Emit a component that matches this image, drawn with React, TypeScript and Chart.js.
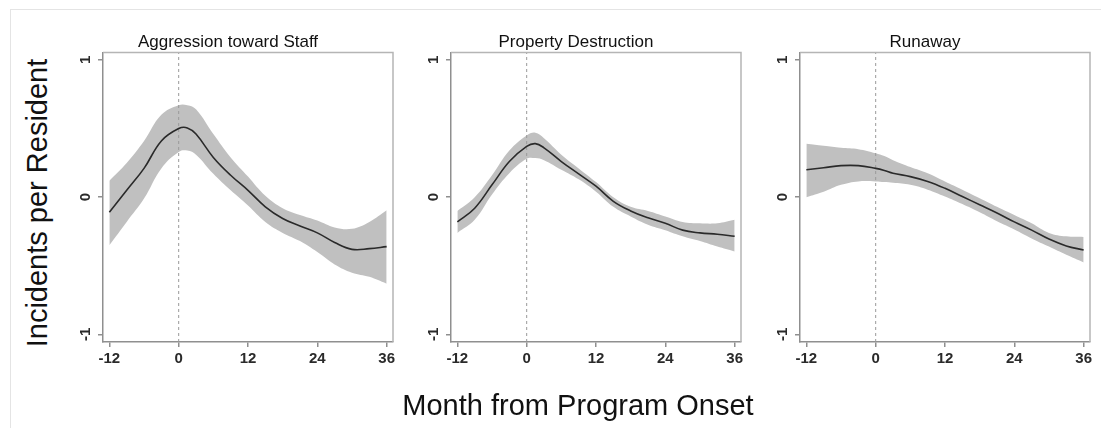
import React, { useEffect, useRef } from "react";
import { Chart, registerables } from "chart.js";

Chart.register(...registerables);

// ---- data ----
const months = [-12, -9, -6, -3, 0, 1.5, 3, 6, 9, 12, 15, 18, 21, 24, 27, 30, 33, 36];
const xTickValues = [-12, 0, 12, 24, 36];
const yTickValues = [-1, 0, 1];

const panelTitles = ["Aggression toward Staff", "Property Destruction", "Runaway"];

const aggMean = [-0.11, 0.05, 0.21, 0.41, 0.5, 0.505, 0.46, 0.29, 0.16, 0.05, -0.07, -0.155, -0.21, -0.26, -0.33, -0.38, -0.375, -0.36];
const aggUpper = [0.12, 0.25, 0.41, 0.6, 0.67, 0.67, 0.64, 0.46, 0.29, 0.15, 0.01, -0.08, -0.13, -0.17, -0.22, -0.23, -0.18, -0.095];
const aggLower = [-0.35, -0.18, -0.01, 0.21, 0.33, 0.34, 0.31, 0.17, 0.05, -0.06, -0.18, -0.26, -0.32, -0.4, -0.49, -0.55, -0.58, -0.63];

const propMean = [-0.18, -0.08, 0.09, 0.26, 0.37, 0.39, 0.36, 0.26, 0.17, 0.08, -0.03, -0.1, -0.15, -0.19, -0.24, -0.26, -0.27, -0.285];
const propUpper = [-0.1, 0.0, 0.16, 0.34, 0.45, 0.47, 0.43, 0.31, 0.21, 0.11, 0.0, -0.07, -0.1, -0.14, -0.18, -0.19, -0.19, -0.165];
const propLower = [-0.26, -0.165, 0.02, 0.175, 0.28, 0.285, 0.27, 0.2, 0.13, 0.04, -0.07, -0.14, -0.2, -0.24, -0.285, -0.32, -0.36, -0.395];

const runMean = [0.2, 0.215, 0.23, 0.23, 0.21, 0.195, 0.175, 0.15, 0.115, 0.065, 0.005, -0.055, -0.115, -0.18, -0.24, -0.305, -0.355, -0.385];
const runUpper = [0.39, 0.375, 0.36, 0.35, 0.32, 0.3, 0.27, 0.22, 0.175, 0.115, 0.055, -0.007, -0.07, -0.13, -0.19, -0.26, -0.285, -0.29];
const runLower = [0.0, 0.04, 0.09, 0.115, 0.115, 0.11, 0.105, 0.09, 0.055, 0.005, -0.05, -0.11, -0.175, -0.235, -0.3, -0.36, -0.42, -0.475];

const X_MIN = -13.1;
const X_MAX = 37.1;
const Y_MIN = -1.055;
const Y_MAX = 1.055;

const FONT = "'Liberation Sans', Arial, Helvetica, sans-serif";
const AXIS_COLOR = "#8f8f8f";
const BAND_COLOR = "#c0c0c0";
const LINE_COLOR = "#2a2a2a";

const panels = [
  { title: panelTitles[0], mean: aggMean, upper: aggUpper, lower: aggLower, boxLeft: 103 },
  { title: panelTitles[1], mean: propMean, upper: propUpper, lower: propLower, boxLeft: 451 },
  { title: panelTitles[2], mean: runMean, upper: runUpper, lower: runLower, boxLeft: 800 },
];

const Y_AXIS_W = 40;
const BOX_W = 290;
const CANVAS_W = BOX_W + 2 * Y_AXIS_W;
const CANVAS_H = 380;

const toPts = (ys: number[]) => months.map((m, i) => ({ x: m, y: ys[i] }));

const boxPlugin = {
  id: "plotBox",
  afterDraw(chart: any) {
    const { ctx, chartArea } = chart;
    ctx.save();
    ctx.strokeStyle = "#b5b5b5";
    ctx.lineWidth = 1.5;
    ctx.beginPath();
    ctx.moveTo(chartArea.left, chartArea.top);
    ctx.lineTo(chartArea.right, chartArea.top);
    ctx.lineTo(chartArea.right, chartArea.bottom);
    ctx.stroke();
    ctx.restore();
  },
};

function Panel({ p }: { p: typeof panels[number] }) {
  const ref = useRef<HTMLCanvasElement>(null);
  useEffect(() => {
    if (!ref.current) return;
    const chart = new Chart(ref.current, {
      type: "line",
      data: {
        datasets: [
          {
            data: toPts(p.upper),
            borderWidth: 0,
            borderColor: "rgba(0,0,0,0)",
            backgroundColor: BAND_COLOR,
            fill: "+1",
            pointRadius: 0,
            tension: 0.4,
            order: 3,
          },
          {
            data: toPts(p.lower),
            borderWidth: 0,
            borderColor: "rgba(0,0,0,0)",
            fill: false,
            pointRadius: 0,
            tension: 0.4,
            order: 2,
          },
          {
            data: toPts(p.mean),
            borderWidth: 1.6,
            borderColor: LINE_COLOR,
            fill: false,
            pointRadius: 0,
            tension: 0.4,
            order: 0,
          },
          {
            data: [
              { x: 0, y: Y_MIN },
              { x: 0, y: Y_MAX },
            ],
            borderWidth: 1,
            borderColor: "#9a9a9a",
            borderDash: [3, 3],
            fill: false,
            pointRadius: 0,
            order: 1,
          },
        ],
      } as any,
      options: {
        animation: false,
        responsive: false,
        events: [],
        layout: { padding: { left: 0, right: Y_AXIS_W, top: 0, bottom: 0 } },
        plugins: {
          legend: { display: false },
          tooltip: { enabled: false },
          title: {
            display: true,
            text: p.title,
            color: "#111",
            font: { family: FONT, size: 17, weight: "normal" },
            padding: { top: 32, bottom: 0 },
          },
        },
        scales: {
          x: {
            type: "linear",
            min: X_MIN,
            max: X_MAX,
            afterBuildTicks: (s: any) => {
              s.ticks = xTickValues.map((v) => ({ value: v }));
            },
            afterFit: (s: any) => {
              s.height = 38;
            },
            grid: { drawOnChartArea: false, drawTicks: true, tickLength: 5, color: AXIS_COLOR, lineWidth: 1.5 },
            border: { display: true, color: AXIS_COLOR, width: 1.5 },
            ticks: {
              color: "#2a2a2a",
              font: { family: FONT, size: 15, weight: "bold" },
              padding: 3,
              maxRotation: 0,
              minRotation: 0,
              autoSkip: false,
              callback: (v: any) => String(v),
            },
          },
          y: {
            type: "linear",
            min: Y_MIN,
            max: Y_MAX,
            afterBuildTicks: (s: any) => {
              s.ticks = yTickValues.map((v) => ({ value: v }));
            },
            afterFit: (s: any) => {
              s.width = Y_AXIS_W;
            },
            grid: { drawOnChartArea: false, drawTicks: true, tickLength: 5, color: AXIS_COLOR, lineWidth: 1.5 },
            border: { display: true, color: AXIS_COLOR, width: 1.5 },
            ticks: {
              color: "#2a2a2a",
              font: { family: FONT, size: 15, weight: "bold" },
              padding: 5,
              minRotation: 90,
              maxRotation: 90,
              crossAlign: "center",
              autoSkip: false,
              callback: (v: any) => String(v),
            },
          },
        },
      } as any,
      plugins: [boxPlugin],
    });
    return () => chart.destroy();
  }, [p]);
  return (
    <canvas
      ref={ref}
      width={CANVAS_W}
      height={CANVAS_H}
      style={{ position: "absolute", left: p.boxLeft - Y_AXIS_W, top: 0, width: CANVAS_W, height: CANVAS_H }}
    />
  );
}

export default function App() {
  return (
    <div
      style={{
        position: "absolute",
        left: 0,
        top: 0,
        width: 1101,
        height: 428,
        overflow: "hidden",
        background: "#fff",
        fontFamily: FONT,
      }}
    >
      <div
        style={{
          position: "absolute",
          left: 10,
          top: 9,
          width: 1101,
          height: 428,
          borderTop: "1px solid #e4e4e4",
          borderLeft: "1px solid #e4e4e4",
        }}
      />
      {panels.map((p) => (
        <Panel key={p.title} p={p} />
      ))}
      <div
        style={{
          position: "absolute",
          left: 37,
          top: 203,
          transform: "translate(-50%, -50%) rotate(-90deg)",
          whiteSpace: "nowrap",
          fontSize: 29,
          color: "#111",
          lineHeight: 1,
        }}
      >
        Incidents per Resident
      </div>
      <div
        style={{
          position: "absolute",
          left: 578,
          top: 405,
          transform: "translate(-50%, -50%)",
          whiteSpace: "nowrap",
          fontSize: 29,
          color: "#111",
          lineHeight: 1,
        }}
      >
        Month from Program Onset
      </div>
    </div>
  );
}
